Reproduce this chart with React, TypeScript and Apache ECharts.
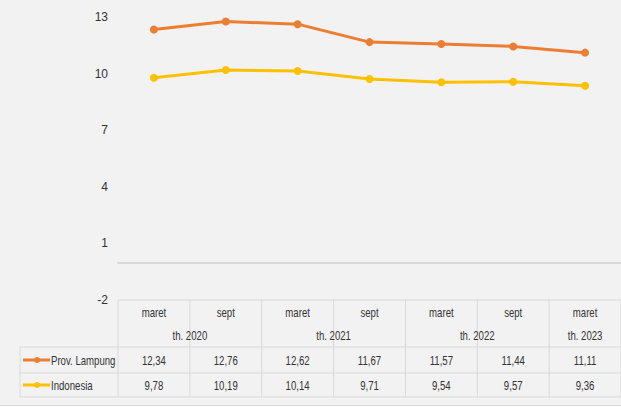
import React, { useEffect, useRef } from "react";
import * as echarts from "echarts";

const months = ["maret", "sept", "maret", "sept", "maret", "sept", "maret"];
const yearGroups = [
  { label: "th. 2020", start: 0, span: 2 },
  { label: "th. 2021", start: 2, span: 2 },
  { label: "th. 2022", start: 4, span: 2 },
  { label: "th. 2023", start: 6, span: 1 },
];
const lampung = [12.34, 12.76, 12.62, 11.67, 11.57, 11.44, 11.11];
const indonesia = [9.78, 10.19, 10.14, 9.71, 9.54, 9.57, 9.36];
const yTicks = [-2, 1, 4, 7, 10, 13];
const seriesNames = ["Prov. Lampung", "Indonesia"];
const seriesColors = ["#ED7D31", "#FFC000"];

const W = 621;
const H = 410;
const FONT = '"Liberation Sans", Arial, sans-serif';
const TEXT = "#333333";
const LINE = "#d9d9d9";

export default function App() {
  const ref = useRef<HTMLDivElement>(null);
  useEffect(() => {
    if (!ref.current) return;
    const chart = echarts.init(ref.current, undefined, { renderer: "svg" });

    const gridLeft = 118;
    const gridRight = W;
    const colW = (gridRight - gridLeft) / months.length;
    const tTop = 300;
    const hdrBot = 347;
    const r1Bot = 373;
    const r2Bot = 397;
    const legLeft = 20;

    const g: any[] = [];
    const hl = (x1: number, x2: number, y: number) =>
      g.push({ type: "line", shape: { x1, y1: y, x2, y2: y }, style: { stroke: LINE, lineWidth: 1 }, silent: true });
    const vl = (x: number, y1: number, y2: number) =>
      g.push({ type: "line", shape: { x1: x, y1, x2: x, y2 }, style: { stroke: LINE, lineWidth: 1 }, silent: true });
    const txt = (x: number, y: number, t: string, align = "center") =>
      g.push({
        type: "text",
        x,
        y,
        scaleX: 0.74,
        style: { text: t, fill: TEXT, font: `13px ${FONT}`, align, verticalAlign: "middle" },
        silent: true,
      });

    hl(gridLeft, gridRight, tTop);
    hl(legLeft, gridRight, hdrBot);
    hl(legLeft, gridRight, r1Bot);
    hl(legLeft, gridRight, r2Bot);
    vl(legLeft, hdrBot, r2Bot);
    for (let i = 0; i <= months.length; i++) {
      vl(gridLeft + i * colW, tTop, r2Bot);
    }
    months.forEach((m, i) => txt(gridLeft + (i + 0.5) * colW, 312, m));
    yearGroups.forEach((yg) => txt(gridLeft + (yg.start + yg.span / 2) * colW, 335, yg.label));
    const rows = [lampung, indonesia];
    const rowY = [360, 385];
    rows.forEach((vals, r) => {
      vals.forEach((v, i) => txt(gridLeft + (i + 0.5) * colW, rowY[r], v.toFixed(2).replace(".", ",")));
      g.push({
        type: "line",
        shape: { x1: 23, y1: rowY[r], x2: 50, y2: rowY[r] },
        style: { stroke: seriesColors[r], lineWidth: 3 },
        silent: true,
      });
      g.push({
        type: "circle",
        shape: { cx: 37, cy: rowY[r], r: 3 },
        style: { fill: seriesColors[r] },
        silent: true,
      });
      txt(51, rowY[r], seriesNames[r], "left");
    });
    g.push({ type: "rect", shape: { x: 0, y: 406, width: W, height: 4 }, style: { fill: "#ffffff" }, silent: true });
    hl(0, W, 405.5);

    chart.setOption({
      animation: false,
      backgroundColor: "#f2f2f2",
      grid: { left: gridLeft, right: 0, top: 17, bottom: H - 300, containLabel: false },
      xAxis: {
        type: "category",
        data: months,
        boundaryGap: true,
        axisLine: { show: true, onZero: true, lineStyle: { color: LINE, width: 2 } },
        axisTick: { show: false },
        axisLabel: { show: false },
        splitLine: { show: false },
      },
      yAxis: {
        type: "value",
        min: -2,
        max: 13,
        axisLine: { show: false },
        axisTick: { show: false, customValues: yTicks },
        splitLine: { show: false },
        axisLabel: {
          customValues: yTicks,
          margin: 10,
          color: TEXT,
          fontSize: 12,
          fontFamily: FONT,
        },
      },
      series: [lampung, indonesia].map((d, i) => ({
        name: seriesNames[i],
        type: "line",
        data: d,
        symbol: "circle",
        symbolSize: 8,
        lineStyle: { color: seriesColors[i], width: 3 },
        itemStyle: { color: seriesColors[i] },
      })),
      graphic: { elements: g },
    });
    return () => chart.dispose();
  }, []);
  return <div ref={ref} style={{ position: "fixed", left: 0, top: 0, width: W, height: H }} />;
}
